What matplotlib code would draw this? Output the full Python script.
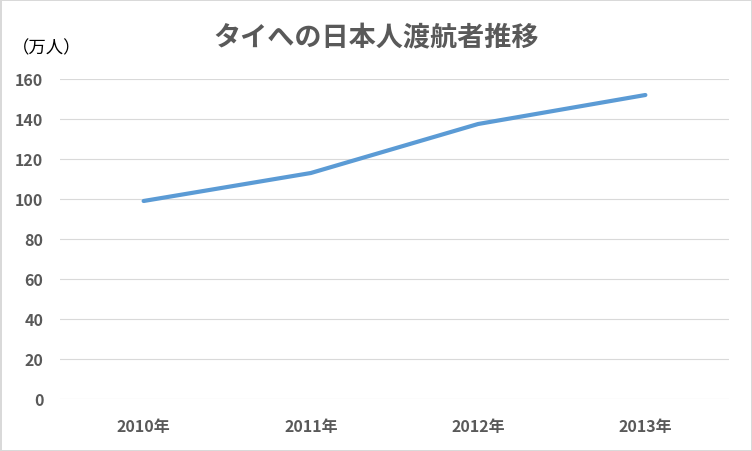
import matplotlib
matplotlib.use("Agg")
import matplotlib.pyplot as plt

plt.rcParams['font.family'] = ['Noto Sans CJK JP', 'DejaVu Sans']

years = ["2010年", "2011年", "2012年", "2013年"]
travelers = [99, 113, 137.5, 152]
y_ticks = [0, 20, 40, 60, 80, 100, 120, 140, 160]

W, H = 752, 452
fig = plt.figure(figsize=(W / 100, H / 100), dpi=100)
fig.patch.set_facecolor("white")
fig.patch.set_edgecolor("#d9d9d9")
fig.patch.set_linewidth(2)

ax = fig.add_axes([60 / W, 52 / H, (729 - 60) / W, 320 / H])
x = list(range(len(years)))
ax.plot(x, travelers, color="#5b9bd5", lw=3, solid_capstyle="round", clip_on=False, zorder=3)

ax.set_xlim(-0.5, len(years) - 0.5)
ax.set_ylim(0, 160)
ax.set_yticks(y_ticks)
ax.set_xticks(x)
ax.set_xticklabels(years)
ax.grid(axis="y", color="#d9d9d9", lw=0.8)
ax.set_axisbelow(True)
for s in ax.spines.values():
    s.set_visible(False)
ax.tick_params(length=0, colors="#595959", labelsize=11.5)
ax.tick_params(axis="x", pad=14)
ax.tick_params(axis="y", pad=12)
for lbl in ax.get_xticklabels() + ax.get_yticklabels():
    lbl.set_fontweight("bold")

fig.text(376 / W, 1 - 38 / H, "タイへの日本人渡航者推移", ha="center", va="center",
         fontsize=19.5, fontweight="bold", color="#595959")
fig.text(12 / W, 1 - 48 / H, "（万人）", ha="left", va="center", fontsize=12.5, color="black")

fig.savefig("out.png", dpi=100, facecolor=fig.get_facecolor(), edgecolor=fig.get_edgecolor())
